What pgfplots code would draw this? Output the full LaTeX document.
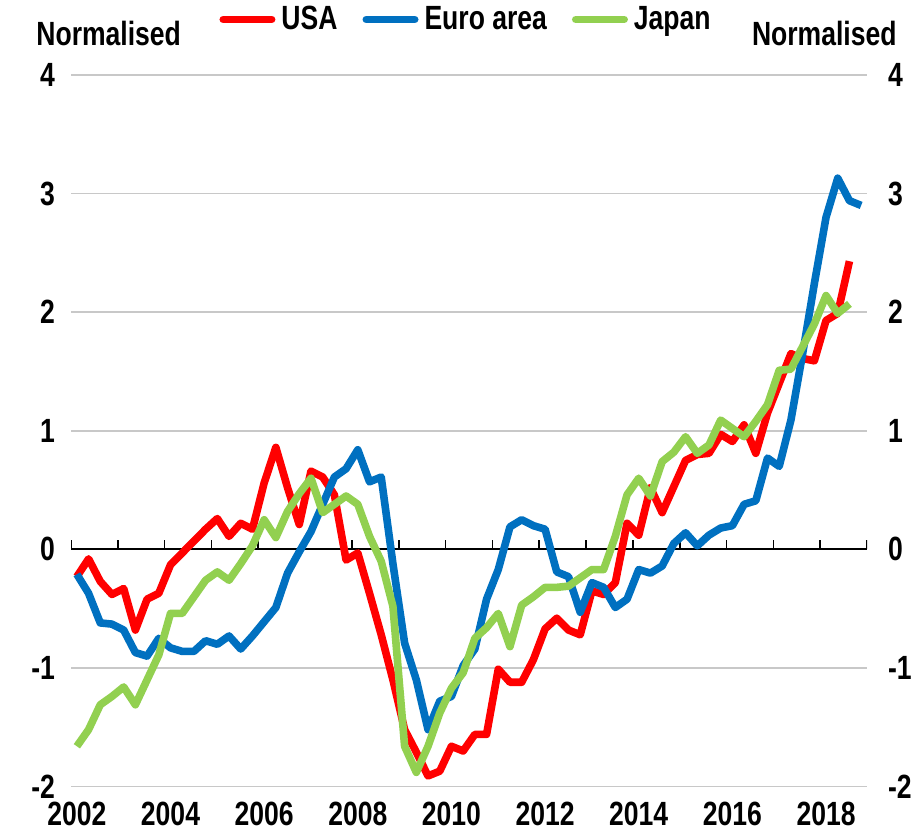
\documentclass[border=0pt]{standalone}
\usepackage{fontspec}
\setmainfont{Liberation Sans}[FakeStretch=0.79]
\usepackage{pgfplots}
\usepackage{pgfplotstable}
\pgfplotsset{compat=1.18}
\definecolor{cRed}{HTML}{FF0000}
\definecolor{cBlue}{HTML}{0070C0}
\definecolor{cGreen}{HTML}{92D050}
\definecolor{cGrid}{HTML}{C8C8C8}
\newcommand\cf{\bfseries\fontsize{16.8}{19}\selectfont}
\pgfplotstableread{
i usa euro japan
0 -0.23 -0.21 -1.66
1 -0.08 -0.37 -1.52
2 -0.27 -0.62 -1.31
3 -0.38 -0.63 -1.24
4 -0.33 -0.68 -1.16
5 -0.68 -0.87 -1.31
6 -0.42 -0.90 -1.10
7 -0.37 -0.75 -0.89
8 -0.13 -0.83 -0.54
9 -0.03 -0.86 -0.54
10 0.07 -0.86 -0.40
11 0.17 -0.77 -0.26
12 0.26 -0.80 -0.19
13 0.11 -0.73 -0.26
14 0.22 -0.84 -0.12
15 0.17 -0.73 0.03
16 0.56 -0.61 0.25
17 0.86 -0.49 0.10
18 0.52 -0.20 0.32
19 0.21 -0.02 0.47
20 0.66 0.15 0.60
21 0.61 0.38 0.31
22 0.46 0.61 0.38
23 -0.09 0.68 0.45
24 -0.03 0.84 0.38
25 -0.37 0.57 0.11
26 -0.72 0.61 -0.10
27 -1.10 -0.12 -0.48
28 -1.52 -0.79 -1.66
29 -1.71 -1.10 -1.88
30 -1.91 -1.52 -1.66
31 -1.87 -1.28 -1.38
32 -1.66 -1.24 -1.17
33 -1.70 -0.98 -1.04
34 -1.56 -0.84 -0.75
35 -1.56 -0.42 -0.66
36 -1.01 -0.17 -0.54
37 -1.12 0.19 -0.82
38 -1.12 0.25 -0.47
39 -0.93 0.20 -0.40
40 -0.67 0.17 -0.32
41 -0.58 -0.19 -0.32
42 -0.68 -0.23 -0.31
43 -0.72 -0.53 -0.24
44 -0.35 -0.28 -0.17
45 -0.38 -0.32 -0.17
46 -0.28 -0.49 0.11
47 0.22 -0.42 0.46
48 0.12 -0.17 0.60
49 0.52 -0.20 0.45
50 0.31 -0.14 0.74
51 0.53 0.05 0.82
52 0.75 0.14 0.95
53 0.80 0.03 0.81
54 0.81 0.12 0.88
55 0.97 0.18 1.09
56 0.91 0.20 1.02
57 1.05 0.38 0.95
58 0.81 0.41 1.08
59 1.15 0.77 1.22
60 1.40 0.70 1.51
61 1.65 1.09 1.52
62 1.61 1.65 1.71
63 1.59 2.24 1.90
64 1.93 2.80 2.14
65 1.99 3.13 1.99
66 2.43 2.94 2.07
67 nan 2.90 nan
}\data
\begin{document}
\begin{tikzpicture}
\begin{axis}[name=ax, at={(0,0)}, anchor=south west,
  scale only axis, width=398pt, height=355.8pt,
  xmin=-0.5, xmax=67.5, ymin=-2, ymax=4,
  axis line style={draw=none},
  major tick length=0pt,
  xtick={0,8,16,24,32,40,48,56,64},
  xticklabels={2002,2004,2006,2008,2010,2012,2014,2016,2018},
  ytick={-2,-1,0,1,2,3,4},
  yticklabels={-2,-1,0,1,2,3,4},
  ymajorgrids, grid style={cGrid, line width=0.8pt},
  tick label style={font=\cf},
  yticklabel style={xshift=-4.5pt},
  xticklabel style={yshift=-4pt},
  legend columns=3,
  legend image code/.code={\draw[#1, line width=3.8pt, line cap=round] (1.9pt,0pt) -- (26.1pt,0pt);},
  legend style={draw=none, fill=none, font=\cf, inner sep=0pt,
    at={(0.186,1.078)}, anchor=west,
    nodes={inner sep=0pt},
    /tikz/every odd column/.append style={column sep=3pt},
    /tikz/every even column/.append style={column sep=12.5pt}},
  line join=round,
]
\draw[black, line width=1pt] (axis cs:-0.5,0) -- (axis cs:67.5,0);
\pgfplotsinvokeforeach{0,...,17}{
  \draw[black, line width=0.8pt] (axis cs:{-0.5+4*#1},0) -- ++(0pt,4.5pt);
}
\addplot[cRed, line width=3.8pt, no marks] table[x=i, y=usa] {\data};
\addlegendentry{USA}
\addplot[cBlue, line width=3.8pt, no marks] table[x=i, y=euro] {\data};
\addlegendentry{Euro area}
\addplot[cGreen, line width=3.8pt, no marks] table[x=i, y=japan] {\data};
\addlegendentry{Japan}
\end{axis}
\begin{axis}[at={(ax.south west)}, anchor=south west,
  scale only axis, width=398pt, height=355.8pt,
  xmin=-0.5, xmax=67.5, ymin=-2, ymax=4,
  axis line style={draw=none},
  major tick length=0pt,
  xtick=\empty,
  ytick={-2,-1,0,1,2,3,4},
  yticklabels={-2,-1,0,1,2,3,4},
  yticklabel pos=right,
  tick label style={font=\cf},
  yticklabel style={xshift=7pt},
]
\end{axis}
\node[anchor=base west, inner sep=0pt, font=\cf] at ([shift={(-17.5pt,14.5pt)}]ax.north west) {Normalised};
\node[anchor=base east, inner sep=0pt, font=\cf] at ([shift={(15pt,14.5pt)}]ax.north east) {Normalised};
\pgfresetboundingbox
\path[use as bounding box] ([shift={(-35.5pt,-24pt)}]ax.south west) rectangle ([shift={(24.5pt,37.5pt)}]ax.north east);
\end{tikzpicture}
\end{document}
